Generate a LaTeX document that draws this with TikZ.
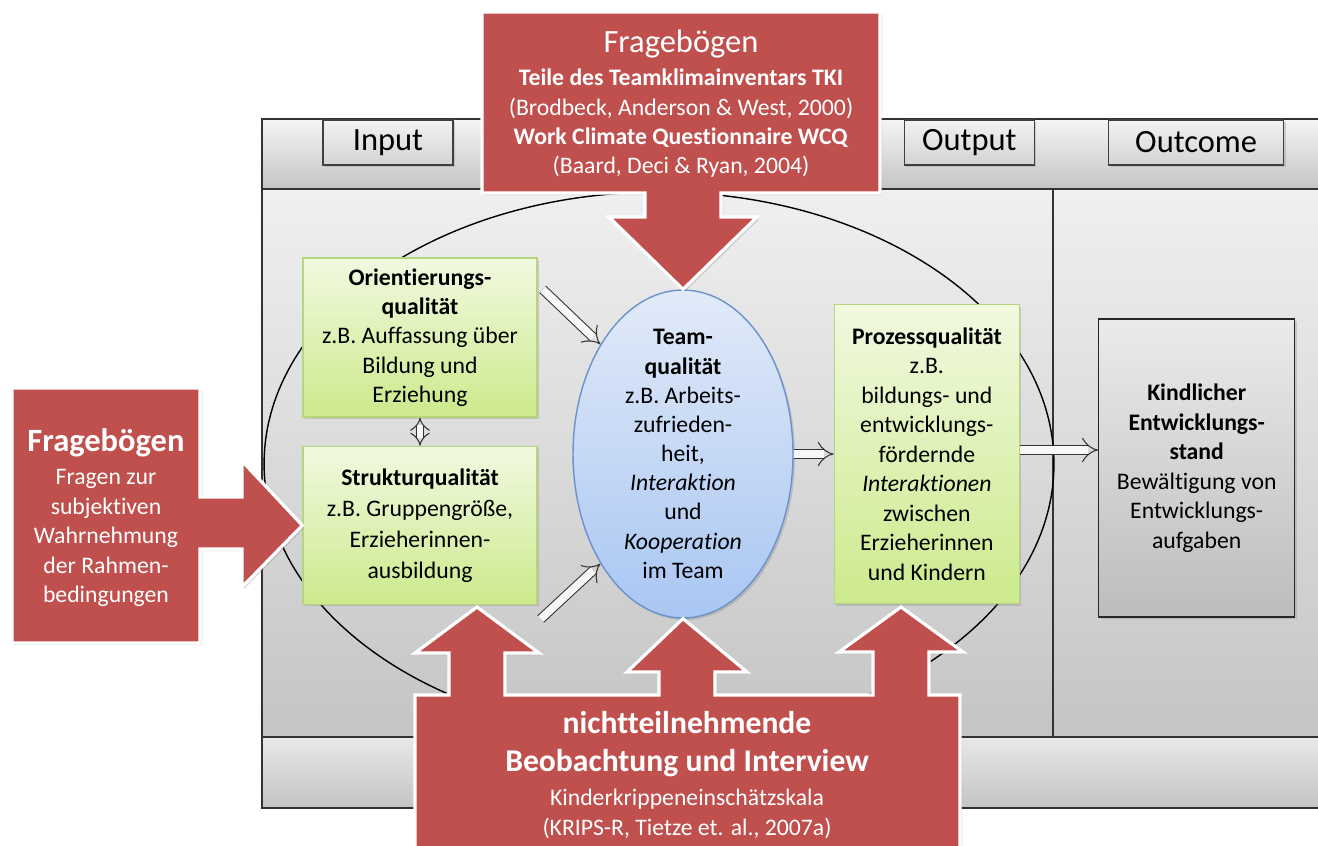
\documentclass[tikz,border=0pt]{standalone}
\usepackage{fontspec}
\setmainfont{Carlito}[Ligatures=NoCommon]
\usetikzlibrary{positioning, arrows.meta, shapes.geometric, shadows, calc}
\definecolor{calloutred}{HTML}{C0504D}
\definecolor{greenline}{HTML}{B5D67C}
\definecolor{greentop}{HTML}{F1F9E0}
\definecolor{greenbottom}{HTML}{CCEA8C}
\definecolor{teamline}{HTML}{6A93CC}
\definecolor{teamtop}{HTML}{E1EAF8}
\definecolor{teambottom}{HTML}{A9C6F3}

\begin{document}
\begin{tikzpicture}[x=0.02cm, y=-0.02cm, >=Latex,
    softshadow/.style={drop shadow={opacity=0.3, shadow xshift=1.2pt, shadow yshift=-1.2pt}},
    band/.style={draw=black!80, line width=0.7pt, top color=#1, bottom color=black!23},
    headbox/.style={draw=black!75, line width=0.8pt, top color=black!5, bottom color=black!17, softshadow, minimum width=2.6cm, minimum height=0.9cm, font=\fontsize{18.5}{20}\selectfont},
    greenbox/.style={draw=greenline, line width=0.8pt, top color=greentop, bottom color=greenbottom, softshadow, align=center, font=\fontsize{13.5}{16.7}\selectfont},
    greybox/.style={draw=black!85, line width=0.8pt, top color=black!8, bottom color=black!26, softshadow, align=center, font=\fontsize{13.5}{16.8}\selectfont},
    hollow/.style={draw=black!80, line width=0.6pt, double=black!3, double distance=4.4pt, -{Implies[scale=1.2]}},
    callout/.style={fill=calloutred, draw=white, line width=1.8pt, line join=miter, softshadow},
    callouttext/.style={text=white, align=center, font=\fontsize{13.5}{16.7}\selectfont}]

\useasboundingbox (0,0) rectangle (1318,845);

% frame
\draw[band=black!4] (262,119) rectangle (1330,189);
\draw[band=black!6] (262,189) rectangle (1053,737);
\draw[band=black!6] (1053,189) rectangle (1330,737);
\draw[band=black!9] (262,737) rectangle (1330,808);

\node[headbox] (input) at (388,142.5) {Input};
\node[headbox, right=9cm of input] (output) {Output};
\node[headbox, minimum width=3.5cm, right=1.46cm of output] (outcome) {Outcome};

\draw[line width=0.8pt] (659,464) ellipse [x radius=7.9cm, y radius=5.44cm];

% quality boxes
\node[greenbox, minimum width=4.68cm, minimum height=3.18cm] (orient) at (420,337.5) {\textbf{Orientierungs-}\\ \textbf{qualität}\\ z.B. Auffassung über\\ Bildung und\\ Erziehung};
\node[greenbox, minimum width=4.68cm, minimum height=3.16cm, font=\fontsize{13.5}{17.6}\selectfont, below=0.56cm of orient] (struct) {\textbf{Strukturqualität}\\ z.B. Gruppengröße,\\ Erzieherinnen-\\ ausbildung};

\node[ellipse, draw=teamline, line width=0.8pt, top color=teamtop, bottom color=teambottom, softshadow, minimum width=4.4cm, minimum height=6.56cm, inner sep=0pt] (team) at (683,454) {};
\node[align=center, font=\fontsize{13.5}{16.6}\selectfont] (teamtext) at (team.center) {\textbf{Team-}\\ \textbf{qualität}\\ z.B. Arbeits-\\ zufrieden-\\ heit,\\ \textit{Interaktion}\\ und\\ \textit{Kooperation}\\ im Team};

\node[greenbox, minimum width=3.7cm, minimum height=5.98cm, font=\fontsize{13.5}{16.8}\selectfont, right=0.8cm of team] (proz) {\textbf{Prozessqualität}\\ z.B.\\ bildungs- und\\ entwicklungs-\\ fördernde\\ \textit{Interaktionen}\\ zwischen\\ Erzieherinnen\\ und Kindern};
\node[greybox, minimum width=3.92cm, minimum height=5.96cm, right=1.56cm of proz, yshift=-0.28cm] (kind) {\textbf{Kindlicher}\\ \textbf{Entwicklungs-}\\ \textbf{stand}\\ Bewältigung von\\ Entwicklungs-\\ aufgaben};

\coordinate (orientout) at ($(orient.north east)+(5,32)$);
\coordinate (structout) at ($(struct.south east)+(3,14)$);
\coordinate (prozout) at ($(proz.east)+(0,-4)$);
\draw[hollow] (orientout) -- (team.127);
\draw[hollow] (structout) -- (team.-127);
\draw[hollow, double distance=3.4pt, {Implies[scale=0.75]}-{Implies[scale=0.75]}] (orient.south) -- (struct.north);
\draw[hollow] (team.east) -- (proz.west);
\draw[hollow] (prozout) -- (prozout -| kind.west);

% methods
\draw[callout] (482,12) -- (880,12) -- (880,193) -- (721,193) -- (721,217) -- (757,217) -- (team.north) -- (609,217) -- (645,217) -- (645,193) -- (482,193) -- cycle;
\node[callouttext] (fragtop) at (681,104) {{\fontsize{18.5}{20}\selectfont Fragebögen}\\[2pt] \textbf{Teile des Teamklimainventars TKI}\\ (Brodbeck, Anderson \& West, 2000)\\ \textbf{Work Climate Questionnaire WCQ}\\ (Baard, Deci \& Ryan, 2004)};

\draw[callout] (12,388) -- (200,388) -- (200,497) -- (242,497) -- (242,461) -- (struct.west) -- (242,587) -- (242,549) -- (200,549) -- (200,643) -- (12,643) -- cycle;
\node[callouttext, font=\fontsize{13.5}{16.8}\selectfont] (fragleft) at (106,518) {{\fontsize{18.5}{20}\selectfont\bfseries Fragebögen}\\[2pt] Fragen zur\\ subjektiven\\ Wahrnehmung\\ der Rahmen-\\ bedingungen};

\draw[callout] (415,870) -- (415,695) -- (449,695) -- (449,653) -- (415,653) -- (477,607) -- (539,653) -- (505,653) -- (505,695) -- (659,695) -- (659,672) -- (627,672) -- (team.south) -- (747,672) -- (715,672) -- (715,695) -- (873,695) -- (873,652) -- (839,652) -- (901,607) -- (963,652) -- (929,652) -- (929,695) -- (960,695) -- (960,870) -- cycle;
\node[callouttext] (beob) at (687,775) {{\fontsize{18}{20}\selectfont\bfseries nichtteilnehmende}\\[5pt] {\fontsize{18}{20}\selectfont\bfseries Beobachtung und Interview}\\[2.3pt] Kinderkrippeneinschätzskala\\[0.3pt] (KRIPS-R, Tietze et. al., 2007a)};
\end{tikzpicture}
\end{document}
